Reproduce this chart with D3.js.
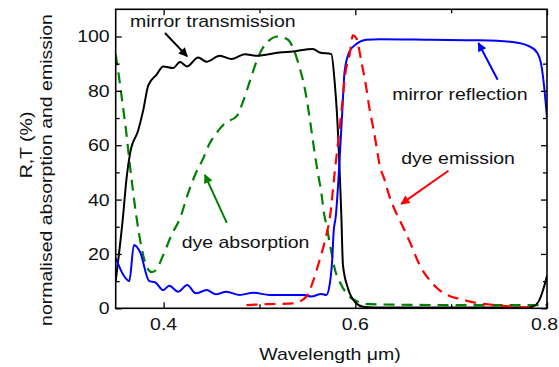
<!DOCTYPE html>
<html>
<head>
<meta charset="utf-8">
<script src="https://cdn.jsdelivr.net/npm/d3@7"></script>
<style>
  html, body { margin: 0; padding: 0; background: #fff; }
  svg text { font-family: "Liberation Sans", Arial, Helvetica, sans-serif; fill: #111; }
</style>
</head>
<body>
<svg id="chart" width="559" height="367"></svg>
<script>
// Spectra: [wavelength (µm), value (%)]
const mirrorTransmission = [
  [0.350, 10], [0.3573, 32.5], [0.3615, 48.4], [0.365, 57], [0.3736, 65.6], [0.3788, 73],
  [0.384, 82], [0.3927, 86],
  [0.3996, 89], [0.410, 88.4], [0.417, 90.6], [0.4246, 89], [0.436, 92.3], [0.4448, 90.7],
  [0.4586, 92.9], [0.4708, 91.7], [0.4847, 93.5], [0.4969, 92.9], [0.521, 94.1],
  [0.535, 94.5], [0.5558, 95.4], [0.5628, 94.1], [0.575, 93.5], [0.5784, 83.5],
  [0.5808, 72], [0.5854, 34.3], [0.5871, 16], [0.5923, 7.4], [0.600, 2.2], [0.608, 0.6],
  [0.620, 0.3], [0.700, 0.3], [0.780, 0.3], [0.785, 0.6], [0.792, 3], [0.797, 8],
  [0.800, 12]
];
const mirrorReflection = [
  [0.350, 18.6], [0.358, 12.3], [0.3642, 10], [0.369, 23.3], [0.3753, 20.8], [0.385, 10],
  [0.391, 9.6], [0.3996, 6.7], [0.4058, 8.3], [0.4152, 6.1], [0.4246, 8.6], [0.4336, 5.5],
  [0.4448, 6.7], [0.4545, 5.2], [0.4656, 6.1], [0.4795, 4.9], [0.4933, 5.7], [0.5107, 4.9],
  [0.5211, 4.9], [0.5472, 4.9], [0.554, 4.3], [0.5646, 5.3], [0.5698, 4.9], [0.5732, 8.6],
  [0.576, 18.4], [0.5774, 28.2], [0.5795, 33.5], [0.5865, 73], [0.5888, 87.1], [0.594, 94.5],
  [0.601, 97.2], [0.6115, 98.8], [0.6253, 99], [0.680, 98.8], [0.730, 98.6], [0.764, 98],
  [0.7816, 96.4], [0.790, 93.9], [0.7937, 90.2], [0.797, 81.6], [0.800, 70]
];
const dyeEmission = [
  [0.4865, 1.2], [0.507, 1.5], [0.535, 1.8], [0.549, 4.3], [0.5558, 9.8], [0.5628, 17.8],
  [0.5698, 27], [0.5735, 33.5], [0.5784, 49.7], [0.5819, 60.8], [0.5854, 72], [0.5899, 87.1],
  [0.594, 93.3], [0.5975, 100.4], [0.601, 99.4], [0.6063, 90.8], [0.6115, 81], [0.615, 73],
  [0.6184, 66.9], [0.6219, 60], [0.6253, 52.8], [0.6305, 47.3], [0.6357, 41.1], [0.6427, 35],
  [0.6496, 30], [0.6583, 23.3], [0.667, 16], [0.6774, 10.4], [0.6878, 6.7], [0.6982, 4.5],
  [0.7086, 3.5], [0.726, 2], [0.7469, 1.2], [0.764, 0.6], [0.7886, 0.2]
];
const dyeAbsorption = [
  [0.350, 93.3], [0.3527, 87], [0.3573, 74.9], [0.3607, 65.7], [0.3642, 54.6], [0.3683, 42.4],
  [0.3715, 34], [0.3771, 22.1], [0.3823, 15.3], [0.3875, 13.3], [0.392, 14.1], [0.3996, 19.6],
  [0.4083, 27], [0.417, 33], [0.4256, 42.4], [0.4336, 49.7], [0.4406, 54.6], [0.4482, 60.8],
  [0.4552, 64.5], [0.4639, 68.1], [0.476, 70.6], [0.4829, 76.1], [0.4899, 83.5],
  [0.4969, 90.8], [0.5038, 96], [0.509, 98.2], [0.5194, 100], [0.5298, 98.8], [0.535, 95.8],
  [0.542, 88.4], [0.5472, 81], [0.5515, 72], [0.5541, 65.7], [0.5576, 57.1], [0.561, 49.7],
  [0.5646, 42.4], [0.5673, 35], [0.5698, 30.7], [0.5743, 22.1], [0.5784, 14.7], [0.5854, 8.6],
  [0.5923, 4.9], [0.601, 2.7], [0.615, 1.5], [0.700, 1.2], [0.800, 1.2]
];

// Axis ticks
const xMajorTicks = [0.4, 0.6, 0.8];
const xMinorTicks = [0.5, 0.7];
const yMajorTicks = [0, 20, 40, 60, 80, 100];
const yMinorTicks = [10, 30, 50, 70, 90];

// Callouts: text anchor and arrow [tail, head], in data units
const callouts = [
  { text: "mirror transmission", at: [0.3649, 103.4], arrow: [[0.4014, 101.3], [0.4246, 92.7]], color: "#000" },
  { text: "mirror reflection",   at: [0.6385, 76.7],  arrow: [[0.7485, 84.1], [0.7284, 97.6]], color: "#0000ff" },
  { text: "dye emission",        at: [0.6479, 53.1],  arrow: [[0.6972, 50.6], [0.6479, 38.4]], color: "#ff0000" },
  { text: "dye absorption",      at: [0.4188, 22.1],  arrow: [[0.4659, 31.4], [0.4430, 49.1]], color: "#008000" }
];

const svg = d3.select("#chart");
const plotL = 115.7, plotR = 547, plotT = 9.3, plotB = 308.3;
const fontSize = 16.8;   // glyph height
const widen = 1.16;      // the lettering runs wide

const x = d3.scaleLinear().domain([0.35, 0.8]).range([plotL, plotR]);
const y = d3.scaleLinear().domain([0, 110]).range([plotB, plotT]);

// Wide text placed at (px, py), optionally rotated
function label(parent, px, py, str, anchor = "start", rot = 0) {
  return parent.append("text")
    .attr("transform", `translate(${px},${py}) rotate(${rot}) scale(${widen},1)`)
    .attr("text-anchor", anchor)
    .attr("font-size", fontSize)
    .text(str);
}

const defs = svg.append("defs");
defs.append("clipPath").attr("id", "plotClip")
  .append("rect").attr("x", plotL).attr("y", plotT)
  .attr("width", plotR - plotL).attr("height", plotB - plotT);

const headId = {};
["#000", "#0000ff", "#ff0000", "#008000"].forEach((c, i) => {
  headId[c] = "head" + i;
  defs.append("marker")
    .attr("id", "head" + i)
    .attr("viewBox", "0 0 10 10")
    .attr("refX", 9).attr("refY", 5)
    .attr("markerUnits", "userSpaceOnUse")
    .attr("markerWidth", 11).attr("markerHeight", 9)
    .attr("orient", "auto")
    .append("path").attr("d", "M0,0 L10,5 L0,10 Z").attr("fill", c);
});

const line = d3.line().x(d => x(d[0])).y(d => y(d[1])).curve(d3.curveMonotoneX);

const curves = svg.append("g").attr("clip-path", "url(#plotClip)");
curves.append("path").datum(dyeAbsorption)
  .attr("d", line).attr("fill", "none").attr("stroke", "#008000")
  .attr("stroke-width", 2.2).attr("stroke-dasharray", "11,7");
curves.append("path").datum(mirrorTransmission)
  .attr("d", line).attr("fill", "none").attr("stroke", "#000").attr("stroke-width", 2);
curves.append("path").datum(mirrorReflection)
  .attr("d", line).attr("fill", "none").attr("stroke", "#0000ff").attr("stroke-width", 2);
curves.append("path").datum(dyeEmission)
  .attr("d", line).attr("fill", "none").attr("stroke", "#ff0000")
  .attr("stroke-width", 2.2).attr("stroke-dasharray", "11,7");

// Frame with inward ticks on all four sides
const axes = svg.append("g");
function tickAxes(axisFn, scale, ticks, size, transform) {
  axes.append("g").attr("transform", transform)
    .call(axisFn(scale).tickValues(ticks).tickSize(size).tickSizeOuter(0).tickFormat(""))
    .call(g => g.select(".domain").remove())
    .call(g => g.selectAll("line").attr("stroke", "#000").attr("stroke-width", 1.3));
}
tickAxes(d3.axisTop, x, xMajorTicks, 6, `translate(0,${plotB})`);
tickAxes(d3.axisTop, x, xMinorTicks, 4, `translate(0,${plotB})`);
tickAxes(d3.axisBottom, x, xMajorTicks, 6, `translate(0,${plotT})`);
tickAxes(d3.axisBottom, x, xMinorTicks, 4, `translate(0,${plotT})`);
tickAxes(d3.axisRight, y, yMajorTicks, 6, `translate(${plotL},0)`);
tickAxes(d3.axisRight, y, yMinorTicks, 4, `translate(${plotL},0)`);
tickAxes(d3.axisLeft, y, yMajorTicks, 6, `translate(${plotR},0)`);
tickAxes(d3.axisLeft, y, yMinorTicks, 4, `translate(${plotR},0)`);

axes.append("rect").attr("x", plotL).attr("y", plotT)
  .attr("width", plotR - plotL).attr("height", plotB - plotT)
  .attr("fill", "none").attr("stroke", "#000").attr("stroke-width", 1.6);

// Tick labels (the last one is kept inside the page edge)
const fmtX = d3.format(".1f");
xMajorTicks.forEach((d, i) => {
  const last = i === xMajorTicks.length - 1;
  label(axes, last ? 558 : x(d), plotB + 21.5, fmtX(d), last ? "end" : "middle");
});
yMajorTicks.forEach(d => label(axes, plotL - 6, y(d) + 6, String(d), "end"));

// Axis titles
label(svg, 330, 360, "Wavelength \u03bcm)", "middle");
label(svg, 32, 145, "R,T (%)", "middle", -90);
label(svg, 52, 170, "normalised absorption and emission", "middle", -90);

// Callout labels and arrows
const notes = svg.append("g");
callouts.forEach(c => {
  label(notes, x(c.at[0]), y(c.at[1]), c.text);
  notes.append("line")
    .attr("x1", x(c.arrow[0][0])).attr("y1", y(c.arrow[0][1]))
    .attr("x2", x(c.arrow[1][0])).attr("y2", y(c.arrow[1][1]))
    .attr("stroke", c.color).attr("stroke-width", 2)
    .attr("marker-end", `url(#${headId[c.color]})`);
});
</script>
</body>
</html>
